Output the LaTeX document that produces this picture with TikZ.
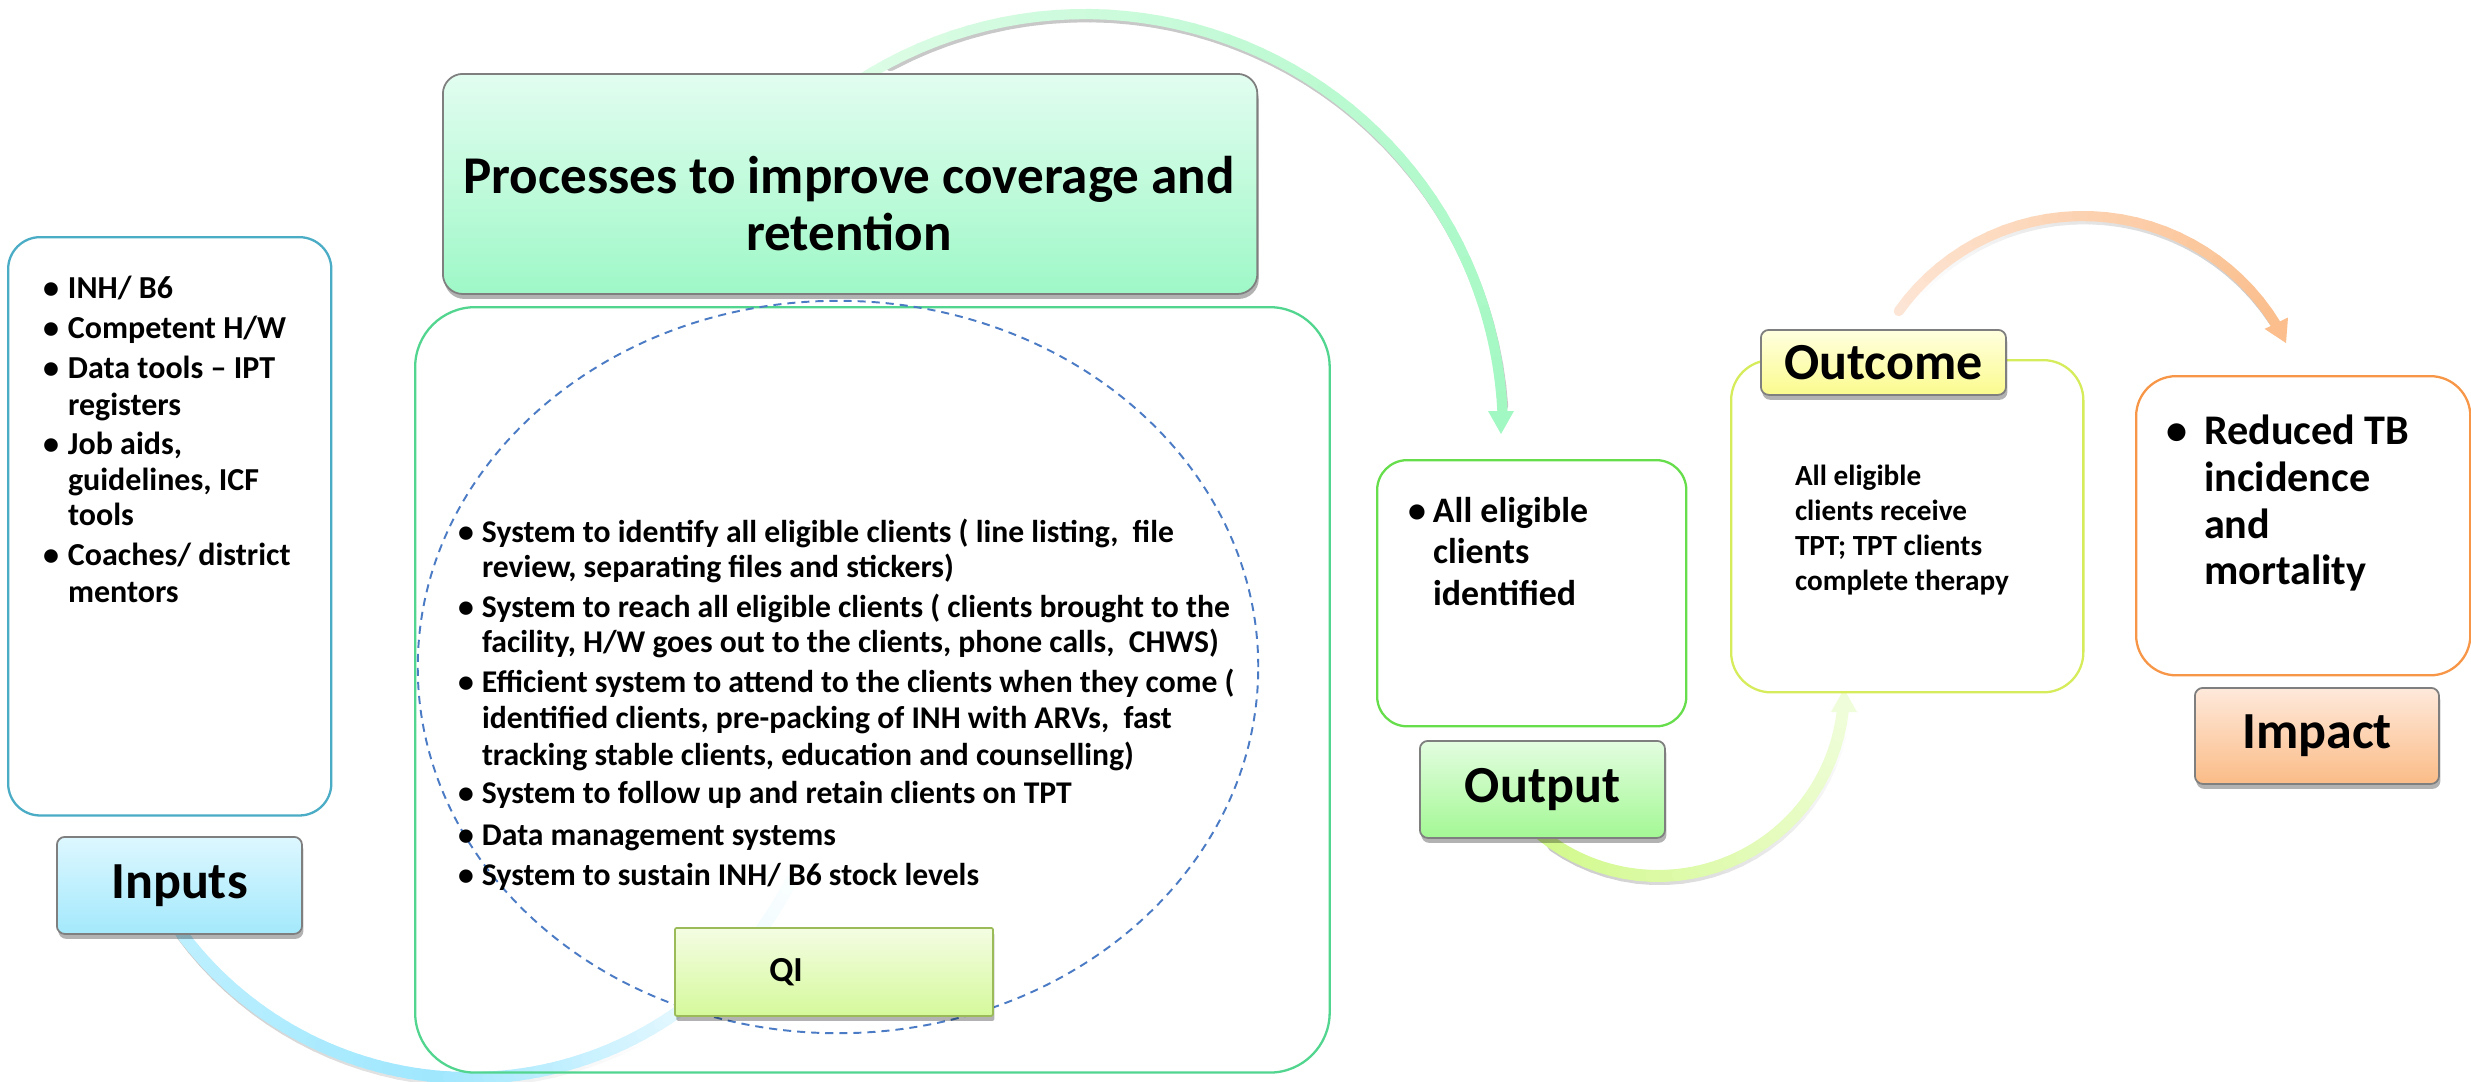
\documentclass[tikz,border=0pt]{standalone}
\usepackage{fontspec}
\setmainfont{Carlito}
\usetikzlibrary{shapes.geometric,shadows}
\definecolor{inbord}{HTML}{4BACC6}
\definecolor{bigbord}{HTML}{52D58F}
\definecolor{ellcol}{HTML}{4A7BC4}
\definecolor{qibord}{HTML}{9BBB59}
\definecolor{outbord}{HTML}{66DD4A}
\definecolor{outcbord}{HTML}{D6EC5B}
\definecolor{impbord}{HTML}{F79646}
\definecolor{labbord}{HTML}{7F7F7F}
\definecolor{inlabT}{HTML}{DDF7FF}\definecolor{inlabB}{HTML}{A3E9FC}
\definecolor{procT}{HTML}{E2FDF0}\definecolor{procB}{HTML}{9EF8C7}
\definecolor{qiT}{HTML}{F4FDE3}\definecolor{qiB}{HTML}{D5F99B}
\definecolor{outT}{HTML}{E3FDE0}\definecolor{outB}{HTML}{A3F894}
\definecolor{outcT}{HTML}{FFFFE0}\definecolor{outcB}{HTML}{FBFB8E}
\definecolor{impT}{HTML}{FEE9DB}\definecolor{impB}{HTML}{FBBC87}
\definecolor{aAa}{HTML}{BFF0FF}\definecolor{aAb}{HTML}{9FE7FE}\definecolor{aAc}{HTML}{E2F7FF}\definecolor{aAd}{HTML}{FAFEFF}
\definecolor{aBa}{HTML}{DDFCE6}\definecolor{aBb}{HTML}{A2F8C2}
\definecolor{aCa}{HTML}{D2F98A}\definecolor{aCb}{HTML}{EFFDDA}
\definecolor{aDa}{HTML}{FDE6D6}\definecolor{aDb}{HTML}{FBBE8C}
\definecolor{shd}{HTML}{C8C8C8}
\newcommand\gradarc[8]{%
  \foreach \k in {1,...,#8}{%
    \pgfmathsetmacro\aA{#3+(#4-(#3))*(\k-1)/#8}%
    \pgfmathsetmacro\aB{#3+(#4-(#3))*\k/#8}%
    \pgfmathsetmacro\pc{100*(\k-0.5)/#8}%
    \draw[line width=#7,line cap=round,color=#6!\pc!#5] ([shift={(\aA:#2)}]#1) -- ([shift={(\aB:#2)}]#1);
  }%
}
\newcommand\bul[1]{\llap{\makebox[#1][c]{•}}}
\newcommand\myfs[1]{\bfseries\fontsize{#1}{#1}\selectfont}
\begin{document}
\begin{tikzpicture}[x=0.01cm,y=-0.01cm,
  tx/.style={anchor=base west,inner sep=0pt,outer sep=0pt},
  lst/.style={draw,line width=0.65pt,fill=white,anchor=north west,inner sep=0pt},
  lbl/.style={draw=labbord,line width=0.5pt,rounded corners=0.08cm,anchor=north west,inner sep=0pt,
    drop shadow={shadow xshift=0.4pt,shadow yshift=-1.4pt,opacity=0.3,fill=black},font=\myfs{14.8pt}}]
\fill[white] (0,0) rectangle (2471,1081);
\useasboundingbox (0,0) rectangle (2471,1081);
% arc centres (and shadow centres)
\coordinate (cA) at (470,718);
\coordinate (cAs) at (471.5,721.5);
\coordinate (cB) at (1085,432);
\coordinate (cBs) at (1086.5,435.5);
\coordinate (cC) at (1658,690);
\coordinate (cCs) at (1659.5,693.5);
\coordinate (cD) at (2083,442);
\coordinate (cDs) at (2084.5,445.5);
% shadows of arcs
\gradarc{cAs}{360}{143.5}{60}{shd}{white}{3.2pt}{30}
\gradarc{cBs}{418}{-118}{-4}{shd}{shd}{2.7pt}{40}
\gradarc{cCs}{186}{125}{8}{shd}{white}{3.2pt}{25}
\gradarc{cDs}{226}{-140}{-33}{white}{shd}{2.7pt}{25}
% arcs
\gradarc{cA}{360}{143.5}{95}{aAa}{aAb}{3.4pt}{30}
\gradarc{cA}{360}{95}{55}{aAb}{aAc}{3.4pt}{25}
\gradarc{cA}{360}{55}{27}{aAc}{aAd}{3.4pt}{20}
\gradarc{cB}{418}{-123}{-2.5}{aBa}{aBb}{2.9pt}{50}
\coordinate (tB) at (1501,434);
\fill[aBb] (tB) -- ++(-13,-23) -- ++(26,0) -- cycle;
\gradarc{cC}{186}{129}{6}{aCa}{aCb}{3.4pt}{30}
\coordinate (tC) at (1844,689);
\fill[aCb] (tC) -- ++(-13,23) -- ++(26,0) -- cycle;
\gradarc{cD}{226}{-144.6}{-31}{aDa}{aDb}{2.9pt}{30}
\coordinate (tD) at (2286,343);
\fill[aDb] (tD) -- ++(2,-25.5) -- ++(-23.4,11.4) -- cycle;
% list boxes
\node[lst,draw=inbord,rounded corners=0.32cm,minimum width=3.23cm,minimum height=5.78cm] (inbox) at (7,236) {};
\node[lst,draw=bigbord,fill=none,rounded corners=0.6cm,minimum width=9.14cm,minimum height=7.65cm] (bigbox) at (414,306) {};
\node[lst,draw=outbord,rounded corners=0.3cm,minimum width=3.09cm,minimum height=2.66cm] (outbox) at (1376,459) {};
\node[lst,draw=outcbord,rounded corners=0.4cm,minimum width=3.52cm,minimum height=3.32cm] (outcbox) at (1730,359) {};
\node[lst,draw=impbord,rounded corners=0.4cm,minimum width=3.34cm,minimum height=2.99cm] (impbox) at (2135,375) {};
\node[draw=ellcol,line width=0.55pt,dash pattern=on 2.3pt off 1.7pt,ellipse,minimum width=8.4cm,minimum height=7.32cm,inner sep=0pt] (qiell) at (838,667) {};
% labels
\node[lbl,top color=procT,bottom color=procB,minimum width=8.14cm,minimum height=2.2cm,rounded corners=0.2cm] (procbox) at (442,73) {};
\node[lbl,top color=inlabT,bottom color=inlabB,minimum width=2.45cm,minimum height=0.97cm] (inlab) at (56,836) {Inputs};
\node[lbl,draw=qibord,rounded corners=0.02cm,top color=qiT,bottom color=qiB,minimum width=3.18cm,minimum height=0.88cm] (qi) at (674,927) {};
\node[lbl,top color=outT,bottom color=outB,minimum width=2.45cm,minimum height=0.97cm] (outlab) at (1419,740) {Output};
\node[lbl,top color=outcT,bottom color=outcB,minimum width=2.45cm,minimum height=0.65cm] (outclab) at (1760,329) {Outcome};
\node[lbl,top color=impT,bottom color=impB,minimum width=2.44cm,minimum height=0.96cm] (implab) at (2194,687) {Impact};
% texts
\node[inner sep=0pt,font=\myfs{10pt}] (qitxt) at (786,972) {QI};
\node[anchor=base,inner sep=0pt,font=\myfs{15.1pt}] (t1) at (849,193) {Processes to improve coverage and};
\node[anchor=base,inner sep=0pt,font=\myfs{15.1pt}] (t2) at (849,250) {retention};
\begin{scope}[every node/.style={tx,font=\myfs{9.1pt}}]
\node (i1) at (68,298) {\bul{0.34cm}INH/ B6};
\node (i2) at (68,338) {\bul{0.34cm}Competent H/W};
\node (i3) at (68,378) {\bul{0.34cm}Data tools – IPT};
\node (i4) at (68,415) {registers};
\node (i5) at (68,454) {\bul{0.34cm}Job aids,};
\node (i6) at (68,490) {guidelines, ICF};
\node (i7) at (68,525) {tools};
\node (i8) at (68,565) {\bul{0.34cm}Coaches/ district};
\node (i9) at (68,602) {mentors};
\end{scope}
\begin{scope}[every node/.style={tx,font=\myfs{9pt}}]
\node (p1) at (482,542) {\bul{0.32cm}System to identify all eligible clients ( line listing, \ file};
\node (p2) at (482,577) {review, separating files and stickers)};
\node (p3) at (482,617) {\bul{0.32cm}System to reach all eligible clients ( clients brought to the};
\node (p4) at (482,652) {facility, H/W goes out to the clients, phone calls, \ CHWS)};
\node (p5) at (482,692) {\bul{0.32cm}Efficient system to attend to the clients when they come (};
\node (p6) at (482,728) {identified clients, pre-packing of INH with ARVs, \ fast};
\node (p7) at (482,765) {tracking stable clients, education and counselling)};
\node (p8) at (482,803) {\bul{0.32cm}System to follow up and retain clients on TPT};
\node (p9) at (482,845) {\bul{0.32cm}Data management systems};
\node (p10) at (482,885) {\bul{0.32cm}System to sustain INH/ B6 stock levels};
\end{scope}
\begin{scope}[every node/.style={tx,font=\myfs{10.2pt}}]
\node (o1) at (1433,522) {\bul{0.32cm}All eligible};
\node (o2) at (1433,563) {clients};
\node (o3) at (1433,605) {identified};
\end{scope}
\begin{scope}[every node/.style={tx,font=\myfs{8.3pt}}]
\node (c1) at (1795,485) {All eligible};
\node (c2) at (1795,520) {clients receive};
\node (c3) at (1795,555) {TPT; TPT clients};
\node (c4) at (1795,590) {complete therapy};
\end{scope}
\begin{scope}[every node/.style={tx,font=\myfs{12pt}}]
\node (m1) at (2204,444) {\bul{0.54cm}Reduced TB};
\node (m2) at (2204,491) {incidence};
\node (m3) at (2204,538) {and};
\node (m4) at (2204,584) {mortality};
\end{scope}
\end{tikzpicture}
\end{document}
